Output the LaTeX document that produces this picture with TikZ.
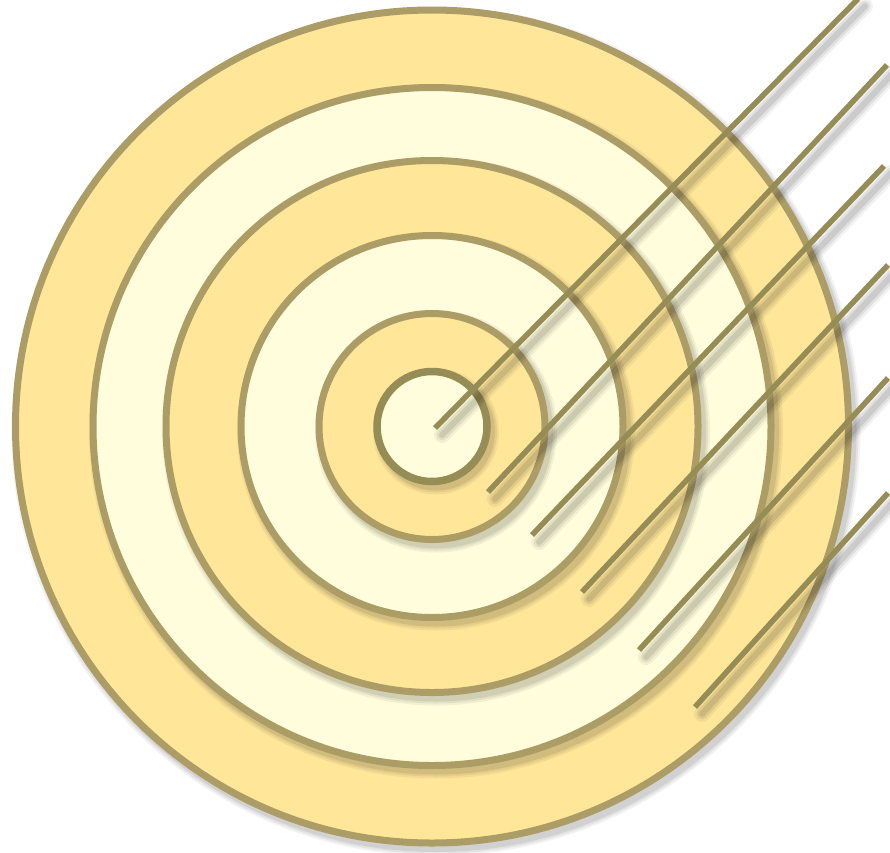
\documentclass[tikz,border=0pt]{standalone}
\usetikzlibrary{calc}
\definecolor{gold}{RGB}{255,230,153}
\definecolor{cream}{RGB}{255,253,220}
\definecolor{ringline}{RGB}{172,157,102}
\definecolor{rod}{RGB}{150,140,85}
\tikzset{
  ring/.style={draw=ringline, line width=7pt},
  innerring/.style={draw=rod, line width=7.5pt},
  rodline/.style={draw=rod, line width=5.5pt},
  rodshadow/.style={draw=black, line cap=round},
}
\newcommand{\ringshadow}[1]{%
  \fill[black,opacity=0.05] ($(c)+(4,5)$) circle[radius=#1pt+8pt];
  \fill[black,opacity=0.06] ($(c)+(4,5)$) circle[radius=#1pt+6pt];
  \fill[black,opacity=0.08] ($(c)+(4,5)$) circle[radius=#1pt+4pt];
}
\newcommand{\rodpair}[2]{%
  \draw[rodshadow,opacity=0.05,line width=16pt] ($(#1)+(7,7)$) -- ($(#2)+(7,7)$);
  \draw[rodshadow,opacity=0.07,line width=11pt] ($(#1)+(7,7)$) -- ($(#2)+(7,7)$);
  \draw[rodshadow,opacity=0.09,line width=6pt] ($(#1)+(7,7)$) -- ($(#2)+(7,7)$);
  \draw[rodline] (#1) -- (#2);
}
\begin{document}
\begin{tikzpicture}[x=1pt,y=-1pt]
\useasboundingbox (0,0) rectangle (890,852);
\fill[white] (0,0) rectangle (890,852);
\coordinate (c) at (432,426.5);
% rings, outermost first
\ringshadow{416.5}
\fill[gold] (c) circle[radius=416.5pt];
\draw[ring] (c) circle[radius=416.5pt];
\ringshadow{339}
\fill[cream] (c) circle[radius=339pt];
\draw[ring] (c) circle[radius=339pt];
\ringshadow{266}
\fill[gold] (c) circle[radius=266pt];
\draw[ring] (c) circle[radius=266pt];
\ringshadow{191}
\fill[cream] (c) circle[radius=191pt];
\draw[ring] (c) circle[radius=191pt];
\ringshadow{113}
\fill[gold] (c) circle[radius=113pt];
\draw[ring] (c) circle[radius=113pt];
\ringshadow{55}
\fill[cream] (c) circle[radius=55pt];
\draw[innerring] (c) circle[radius=55pt];
% rods
\coordinate (a1) at (435,428); \coordinate (b1) at (858,-1);
\coordinate (a2) at (488,492); \coordinate (b2) at (887,65);
\coordinate (a3) at (532,535); \coordinate (b3) at (884,166);
\coordinate (a4) at (582,592); \coordinate (b4) at (888,265);
\coordinate (a5) at (639,650); \coordinate (b5) at (888,378);
\coordinate (a6) at (695,707); \coordinate (b6) at (888,493);
\rodpair{a1}{b1}
\rodpair{a2}{b2}
\rodpair{a3}{b3}
\rodpair{a4}{b4}
\rodpair{a5}{b5}
\rodpair{a6}{b6}
\end{tikzpicture}
\end{document}
